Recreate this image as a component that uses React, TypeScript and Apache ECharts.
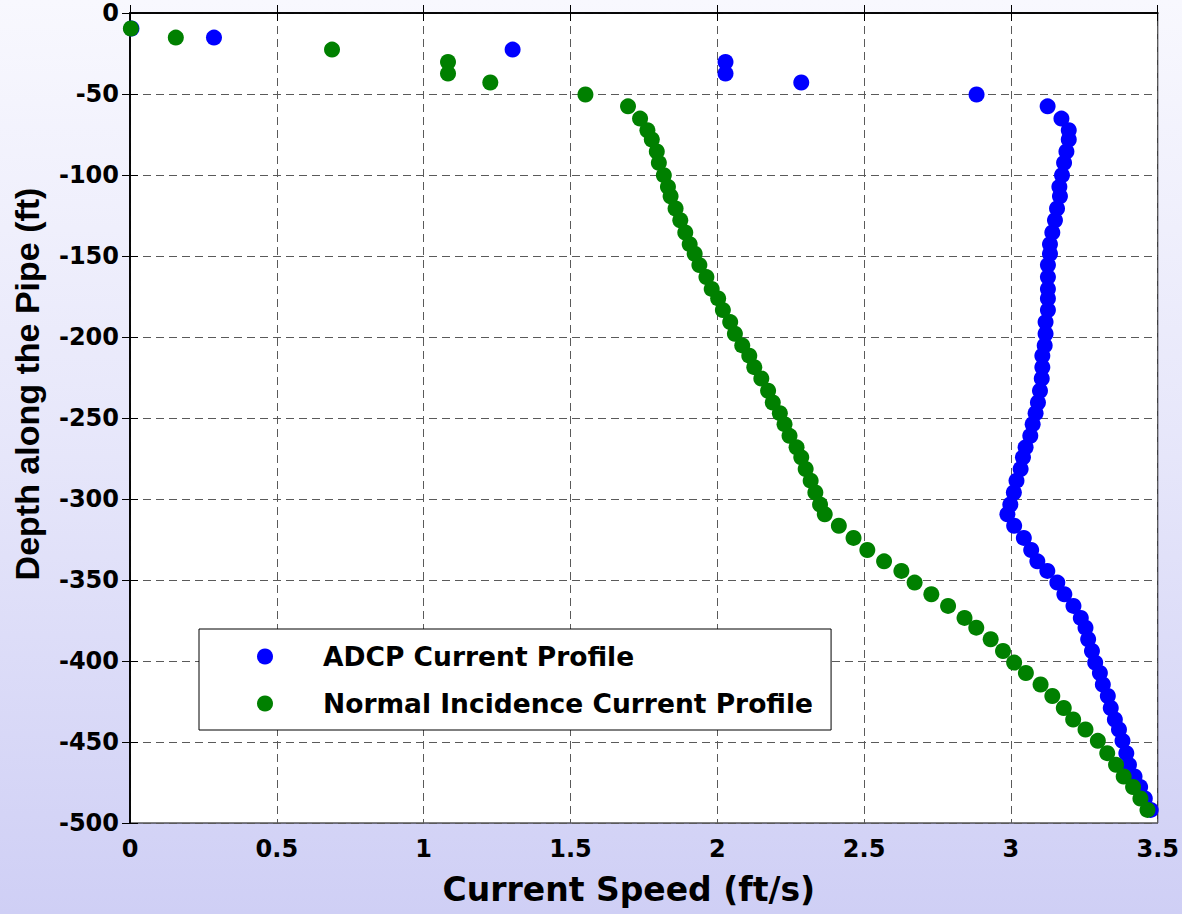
import React, { useEffect, useRef } from "react";
import * as echarts from "echarts";

// Depth along the pipe (ft) for each measurement bin
const depthFt = [
  -9.6, -15.2, -22.6, -30.2, -37.4, -42.9, -50.3, -57.6, -65.2, -72.4,
  -78.1, -85.5, -92.5, -100.1, -107.3, -113.1, -120.7, -127.9, -135.5, -142.7,
  -148.6, -155.6, -163.0, -170.3, -176.2, -183.4, -190.8, -198.0, -205.2, -211.5,
  -218.6, -225.6, -233.2, -240.4, -247.0, -253.8, -261.0, -268.1, -274.3, -281.5,
  -288.7, -296.0, -303.4, -309.4, -316.5, -324.0, -331.5, -338.5, -344.4, -351.6,
  -358.8, -366.0, -373.4, -379.4, -386.6, -393.8, -401.0, -407.4, -414.5, -421.6,
  -429.0, -436.1, -442.3, -449.3, -456.9, -464.1, -471.3, -477.8, -484.9, -491.9,
];

// ADCP current profile speed (ft/s)
const adcpSpeed = [
  0.005, 0.286, 1.303, 2.028, 2.028, 2.286, 2.883, 3.125, 3.172, 3.197,
  3.197, 3.189, 3.181, 3.174, 3.165, 3.167, 3.157, 3.150, 3.141, 3.133,
  3.133, 3.126, 3.126, 3.126, 3.126, 3.126, 3.118, 3.118, 3.115, 3.107,
  3.107, 3.105, 3.099, 3.092, 3.084, 3.074, 3.066, 3.050, 3.041, 3.033,
  3.019, 3.010, 2.998, 2.988, 3.011, 3.044, 3.069, 3.090, 3.124, 3.158,
  3.182, 3.213, 3.238, 3.254, 3.263, 3.276, 3.287, 3.303, 3.313, 3.330,
  3.340, 3.354, 3.368, 3.380, 3.393, 3.402, 3.421, 3.440, 3.456, 3.476,
];

// Normal incidence current profile speed (ft/s)
const normalSpeed = [
  0.003, 0.156, 0.688, 1.083, 1.083, 1.227, 1.551, 1.696, 1.737, 1.762,
  1.777, 1.794, 1.801, 1.818, 1.832, 1.841, 1.858, 1.874, 1.891, 1.906,
  1.923, 1.939, 1.963, 1.981, 2.003, 2.019, 2.044, 2.060, 2.085, 2.109,
  2.126, 2.150, 2.173, 2.189, 2.213, 2.229, 2.246, 2.270, 2.286, 2.301,
  2.318, 2.334, 2.350, 2.366, 2.414, 2.464, 2.511, 2.568, 2.627, 2.672,
  2.729, 2.786, 2.842, 2.882, 2.931, 2.973, 3.011, 3.051, 3.101, 3.141,
  3.180, 3.212, 3.254, 3.296, 3.328, 3.358, 3.384, 3.416, 3.441, 3.465,
];

const seriesNames = ["ADCP Current Profile", "Normal Incidence Current Profile"];
const seriesColors = ["#0000ff", "#008000"];
const xTitle = "Current Speed (ft/s)";
const yTitle = "Depth along the Pipe (ft)";

const FONT = "'DejaVu Sans', 'Liberation Sans', sans-serif";
const FONT_NARROW = "'Liberation Sans', Arial, sans-serif";

export default function App() {
  const ref = useRef<HTMLDivElement>(null);

  useEffect(() => {
    document.body.style.margin = "0";
    const chart = echarts.init(ref.current!, null, { renderer: "svg" });

    const tickLabel = {
      color: "#000",
      fontFamily: FONT,
      fontWeight: "bold" as const,
      fontSize: 24,
    };
    const split = {
      show: true,
      lineStyle: { color: "#5a5a5a", type: [8, 5] as number[], width: 1 },
    };
    const axLine = { show: true, lineStyle: { color: "#000", width: 1.5 } };
    const tick = { show: true, inside: true, length: 8, lineStyle: { color: "#000", width: 1 } };

    const mk = (arr: number[]) => arr.map((v, i) => [v, depthFt[i]]);

    chart.setOption({
      animation: false,
      grid: {
        left: 130,
        right: 23,
        top: 13,
        bottom: 91,
        show: true,
        backgroundColor: "#ffffff",
        borderColor: "#000",
        borderWidth: 1,
      },
      xAxis: [
        {
          type: "value",
          position: "bottom",
          min: 0,
          max: 3.5,
          interval: 0.5,
          axisLine: axLine,
          axisTick: tick,
          axisLabel: { ...tickLabel, margin: 14 },
          splitLine: split,
          name: xTitle,
          nameLocation: "middle",
          nameGap: 50,
          nameTextStyle: {
            color: "#000",
            fontFamily: FONT,
            fontWeight: "bold",
            fontSize: 33,
            padding: [0, 30, 0, 0],
          },
        },
        {
          type: "value",
          position: "top",
          min: 0,
          max: 3.5,
          interval: 0.5,
          axisLine: axLine,
          axisTick: tick,
          axisLabel: { show: false },
          splitLine: { show: false },
        },
      ],
      yAxis: [
        {
          type: "value",
          position: "left",
          min: -500,
          max: 0,
          interval: 50,
          axisLine: axLine,
          axisTick: tick,
          axisLabel: { ...tickLabel, margin: 11 },
          splitLine: split,
          name: yTitle,
          nameLocation: "middle",
          nameGap: 86,
          nameTextStyle: {
            color: "#000",
            fontFamily: FONT_NARROW,
            fontWeight: "bold",
            fontSize: 34,
            padding: [0, 0, 0, 68],
          },
        },
        {
          type: "value",
          position: "right",
          min: -500,
          max: 0,
          interval: 50,
          axisLine: axLine,
          axisTick: tick,
          axisLabel: { show: false },
          splitLine: { show: false },
        },
      ],
      legend: {
        show: true,
        orient: "vertical",
        left: 199,
        top: 629,
        padding: [14, 18, 13, 58],
        itemWidth: 16,
        itemHeight: 16,
        itemGap: 20,
        icon: "circle",
        selectedMode: false,
        backgroundColor: "#ffffff",
        borderColor: "#000",
        borderWidth: 1,
        data: seriesNames,
        textStyle: {
          color: "#000",
          fontFamily: FONT,
          fontWeight: "bold",
          fontSize: 26.5,
          padding: [0, 0, 0, 45],
        },
      },
      series: [
        {
          type: "scatter",
          name: seriesNames[0],
          data: mk(adcpSpeed),
          symbol: "circle",
          symbolSize: 16,
          clip: false,
          itemStyle: { color: seriesColors[0], opacity: 1 },
        },
        {
          type: "scatter",
          name: seriesNames[1],
          data: mk(normalSpeed),
          symbol: "circle",
          symbolSize: 16,
          clip: false,
          itemStyle: { color: seriesColors[1], opacity: 1 },
        },
      ],
    });

    return () => chart.dispose();
  }, []);

  return (
    <div
      ref={ref}
      style={{
        position: "absolute",
        left: 0,
        top: 0,
        width: 1182,
        height: 914,
        background: "linear-gradient(to bottom, #f8f8fe 0%, #e6e6fa 50%, #cfcff5 100%)",
      }}
    />
  );
}
